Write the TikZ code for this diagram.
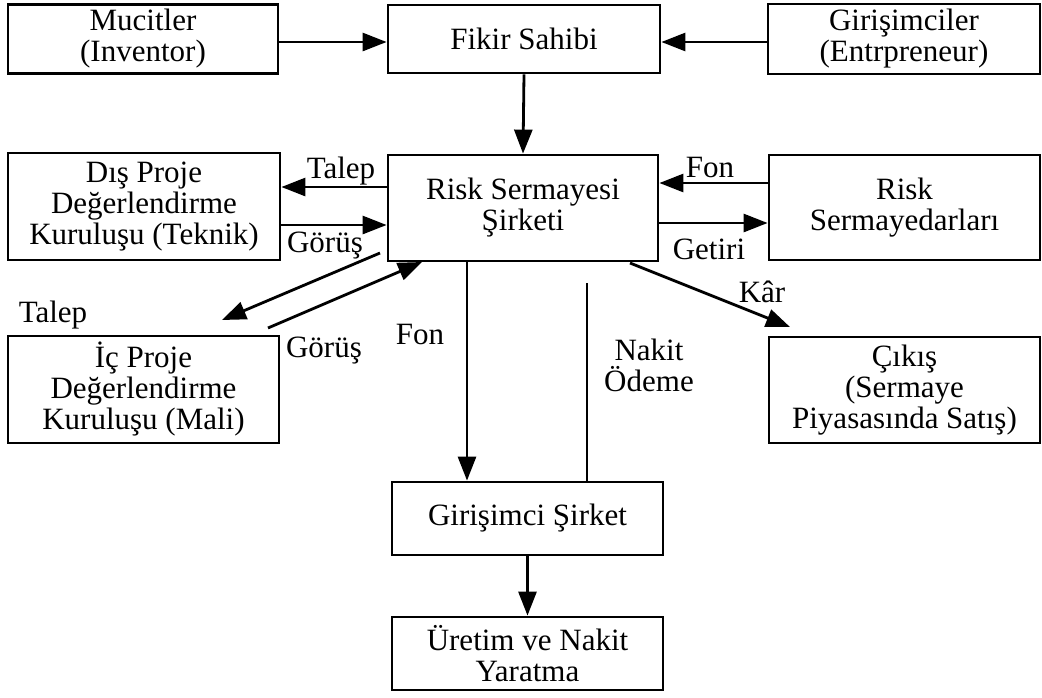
\documentclass[tikz,border=0pt]{standalone}
\usepackage{fontspec}
\setmainfont{Liberation Serif}
\usetikzlibrary{arrows.meta}
\begin{document}
\begin{tikzpicture}[x=1pt,y=-1pt,
  box/.style={draw,line width=2.8pt,align=center,inner sep=0pt,
    font=\fontsize{31}{31}\selectfont},
  arr/.style={line width=2.8pt,-{Triangle[length=24pt,width=18pt]}},
  plain/.style={line width=2.8pt},
  lbl/.style={inner sep=0pt,font=\fontsize{31}{31}\selectfont,align=center}]
\useasboundingbox (0,0) rectangle (1042,697);
% boxes
\node[box,minimum width=270pt,minimum height=69pt] (muc) at (143,39) {Mucitler\\(Inventor)};
\node[box,minimum width=272pt,minimum height=68pt] (fik) at (524,39) {Fikir Sahibi};
\node[box,minimum width=272pt,minimum height=70pt] (gir) at (904,39) {Girişimciler\\(Entrpreneur)};
\node[box,minimum width=272pt,minimum height=107pt] (dis) at (144,206.5) {Dış Proje\\Değerlendirme\\Kuruluşu (Teknik)};
\node[box,minimum width=270pt,minimum height=106pt] (rsk) at (523,208) {Risk Sermayesi\\Şirketi};
\node[box,minimum width=271pt,minimum height=105pt] (rsd) at (904.5,207.5) {Risk\\Sermayedarları};
\node[box,minimum width=271pt,minimum height=107pt] (ic) at (143.5,389.5) {İç Proje\\Değerlendirme\\Kuruluşu (Mali)};
\node[box,minimum width=271pt,minimum height=106pt] (cik) at (904.5,390) {Çıkış\\(Sermaye\\Piyasasında Satış)};
\node[box,minimum width=271pt,minimum height=73pt] (gsk) at (527.5,518.5) {Girişimci Şirket};
\node[box,minimum width=271pt,minimum height=73pt] (ure) at (527.5,653.5) {Üretim ve Nakit\\Yaratma};
% free ends
\coordinate (a1) at (380,253);
\coordinate (a2) at (222,320);
\coordinate (b1) at (268,328);
\coordinate (b2) at (422,262);
\coordinate (k1) at (630,263);
\coordinate (k2) at (790,327);
\coordinate (n1) at (587,283);
% connectors
\draw[arr] (muc.east |- 0,42) -- (fik.west |- 0,42);
\draw[arr] (gir.west |- 0,42) -- (fik.east |- 0,42);
\draw[arr] (fik.south) -- (rsk.north);
\draw[arr] (rsk.west |- 0,187) -- (dis.east |- 0,187);
\draw[arr] (dis.east |- 0,225) -- (rsk.west |- 0,225);
\draw[arr] (rsd.west |- 0,183) -- (rsk.east |- 0,183);
\draw[arr] (rsk.east |- 0,223) -- (rsd.west |- 0,223);
\draw[arr] (a1) -- (a2);
\draw[arr] (b1) -- (b2);
\draw[arr] (rsk.south -| 467,0) -- (gsk.north -| 467,0);
\draw[plain] (gsk.north -| n1) -- (n1);
\draw[arr] (k1) -- (k2);
\draw[arr] (gsk.south) -- (ure.north);
% labels
\node[lbl] (l1) at (341,171) {Talep};
\node[lbl] (l2) at (325,246) {Görüş};
\node[lbl] (l3) at (710,167) {Fon};
\node[lbl] (l4) at (709,249) {Getiri};
\node[lbl] (l5) at (53,315) {Talep};
\node[lbl] (l6) at (324,351) {Görüş};
\node[lbl] (l7) at (420,334) {Fon};
\node[lbl] (l8) at (649,365) {Nakit\\Ödeme};
\node[lbl] (l9) at (762,292) {Kâr};
\end{tikzpicture}
\end{document}
